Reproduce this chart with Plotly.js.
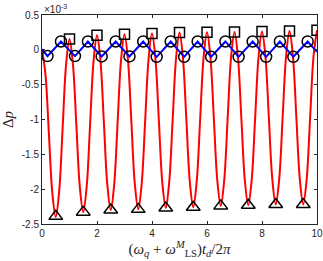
<!DOCTYPE html>
<html><head><meta charset="utf-8">
<script src="https://cdn.plot.ly/plotly-3.0.1.min.js"></script>
<style>html,body{margin:0;padding:0;background:#fff}</style>
</head><body>
<div id="plot" style="width:323px;height:261px"></div>
<script>
// values in units of 1e-3
const redT = [0,0.125,0.25,0.375,0.5,0.625,0.75,0.875,1,1.125,1.25,1.375,1.5,1.625,1.75,1.875,2,2.125,2.25,2.375,2.5,2.625,2.75,2.875,3,3.125,3.25,3.375,3.5,3.625,3.75,3.875,4,4.125,4.25,4.375,4.5,4.625,4.75,4.875,5,5.125,5.25,5.375,5.5,5.625,5.75,5.875,6,6.125,6.25,6.375,6.5,6.625,6.75,6.875,7,7.125,7.25,7.375,7.5,7.625,7.75,7.875,8,8.125,8.25,8.375,8.5,8.625,8.75,8.875,9,9.125,9.25,9.375,9.5,9.625,9.75,9.875,10];
const redP = [0,-0.35,-1.20,-2.05,-2.40,-2.027,-1.12,-0.216,0.157,-0.206,-1.087,-1.967,-2.33,-1.959,-1.06,-0.161,0.21,-0.156,-1.045,-1.934,-2.30,-1.932,-1.038,-0.144,0.224,-0.143,-1.033,-1.923,-2.29,-1.922,-1.029,-0.135,0.233,-0.132,-1.019,-1.905,-2.27,-1.902,-1.011,-0.12,0.248,-0.118,-1.006,-1.894,-2.26,-1.893,-1.004,-0.115,0.252,-0.112,-0.994,-1.876,-2.24,-1.875,-0.992,-0.108,0.257,-0.106,-0.987,-1.867,-2.23,-1.866,-0.984,-0.102,0.262,-0.1,-0.979,-1.858,-2.22,-1.856,-0.975,-0.094,0.27,-0.094,-0.975,-1.856,-2.22,-1.855,-0.97,-0.085,0.28];
const sqT = [1,2,3,4,5,6,7,8,9,10];
const sqP = [0.157,0.21,0.224,0.233,0.248,0.252,0.257,0.262,0.27,0.28];
const triT = [0.5,1.5,2.5,3.5,4.5,5.5,6.5,7.5,8.5,9.5];
const triP = [-2.39,-2.33,-2.30,-2.29,-2.27,-2.26,-2.24,-2.23,-2.22,-2.22];
const blueT = [0,0.2,0.69,1.2,1.67,2.17,2.68,3.18,3.68,4.17,4.68,5.17,5.66,6.15,6.67,7.15,7.66,8.15,8.65,9.14,9.66,10];
const blueP = [0.01,-0.09,0.12,-0.09,0.12,-0.095,0.12,-0.095,0.12,-0.1,0.12,-0.1,0.12,-0.1,0.12,-0.1,0.12,-0.1,0.12,-0.1,0.12,-0.03];
const circT = blueT.slice(1, -1);
const circP = blueP.slice(1, -1);
const xTicks = [0,2,4,6,8,10];
const yTicks = [0.5,0,-0.5,-1,-1.5,-2,-2.5];
const yTickText = ['0.5','0','-0.5','-1','-1.5','-2','-2.5'];

const traces = [
  {x: redT, y: redP, mode: 'lines', line: {color: '#ff0000', width: 2, shape: 'spline', smoothing: 1}, hoverinfo: 'skip'},
  {x: blueT, y: blueP, mode: 'lines', line: {color: '#0000ff', width: 2}, hoverinfo: 'skip'},
  {x: circT, y: circP, mode: 'markers', marker: {symbol: 'circle-open', size: 11, color: '#000', line: {width: 1.5, color: '#000'}}},
  {x: sqT, y: sqP, mode: 'markers', marker: {symbol: 'square-open', size: 10, color: '#000', line: {width: 1.5, color: '#000'}}},
  {x: triT, y: triP, mode: 'markers', marker: {symbol: 'triangle-up-open', size: 12, color: '#000', line: {width: 1.5, color: '#000'}}}
];
const axCommon = {showgrid: false, zeroline: false, showline: true, mirror: 'ticks', linecolor: '#262626', linewidth: 1,
  ticks: 'inside', ticklen: 3, tickcolor: '#262626', tickfont: {family: 'Liberation Sans, Arial', size: 10, color: '#262626'}};
const layout = {
  width: 323, height: 261, margin: {l: 42, r: 6, t: 15, b: 37},
  paper_bgcolor: '#fff', plot_bgcolor: '#fff', showlegend: false,
  xaxis: Object.assign({}, axCommon, {range: [0, 10], tickvals: xTicks, ticktext: xTicks.map(String),
    title: {text: '(<i>ω<sub>q</sub></i> + <i>ω</i><sup><i>M</i></sup><sub>LS</sub>)<i>t<sub>d</sub></i>/2<i>π</i>', font: {family: 'Liberation Serif, serif', size: 15, color: '#262626'}, standoff: 4}}),
  yaxis: Object.assign({}, axCommon, {range: [-2.5, 0.5], tickvals: yTicks, ticktext: yTickText,
    title: {text: 'Δ<i>p</i>', font: {family: 'Liberation Serif, serif', size: 15, color: '#262626'}, standoff: 4}}),
  annotations: [{xref: 'paper', yref: 'paper', x: 0, y: 1, xanchor: 'left', yanchor: 'bottom', showarrow: false, yshift: -2,
    text: '×10<sup>-3</sup>', font: {family: 'Liberation Sans, Arial', size: 10, color: '#262626'}}]
};
Plotly.newPlot('plot', traces, layout, {staticPlot: true, displayModeBar: false});
</script>
</body></html>
